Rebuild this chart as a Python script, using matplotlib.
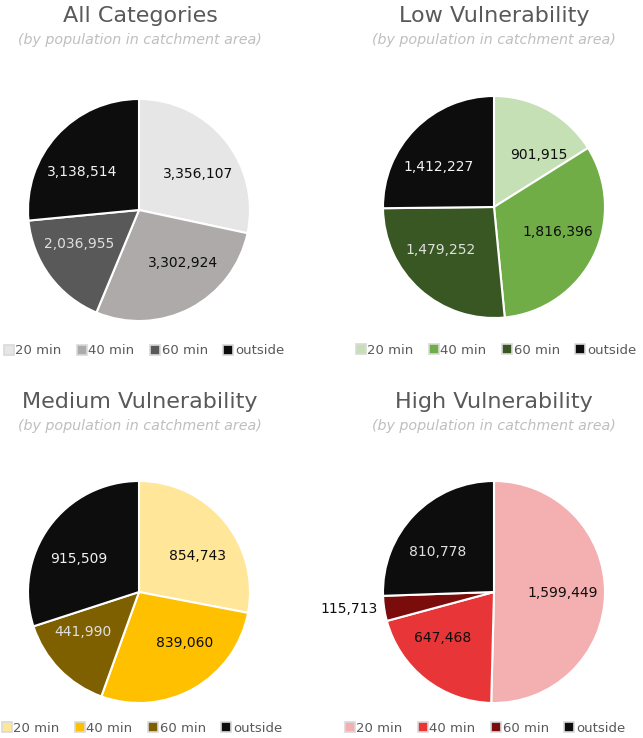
import numpy as np
import matplotlib
matplotlib.use("Agg")
import matplotlib.pyplot as plt
from matplotlib.lines import Line2D

W, H = 643, 738

categories = ["20 min", "40 min", "60 min", "outside"]

titles = ["All Categories", "Low Vulnerability", "Medium Vulnerability", "High Vulnerability"]
subtitle = "(by population in catchment area)"

all_values = [3356107, 3302924, 2036955, 3138514]
low_values = [901915, 1816396, 1479252, 1412227]
medium_values = [854743, 839060, 441990, 915509]
high_values = [1599449, 647468, 115713, 810778]

all_colors = ["#E7E6E6", "#AEAAAA", "#595959", "#0D0D0D"]
low_colors = ["#C5E0B4", "#70AD47", "#385723", "#0D0D0D"]
medium_colors = ["#FFE699", "#FFC000", "#7F6000", "#0D0D0D"]
high_colors = ["#F4B0B0", "#E83538", "#7B0C0C", "#0D0D0D"]

# text colour on each slice (dark on light fills, light on dark fills)
all_text = ["#0D0D0D", "#0D0D0D", "#E0E0E0", "#F2F2F2"]
low_text = ["#0D0D0D", "#0D0D0D", "#E0E0E0", "#F2F2F2"]
medium_text = ["#0D0D0D", "#0D0D0D", "#E0E0E0", "#F2F2F2"]
high_text = ["#0D0D0D", "#0D0D0D", "#0D0D0D", "#E0E0E0"]

panels = [
    (all_values, all_colors, all_text),
    (low_values, low_colors, low_text),
    (medium_values, medium_colors, medium_text),
    (high_values, high_colors, high_text),
]

# layout in pixels: pie centre, radius, title y, legend centre
pie_centres = [(139, 210), (494, 207), (139, 592), (494, 592)]
radius_px = 111
title_pos = [(140, 16), (494, 16), (140, 402), (494, 402)]
legend_pos = [(144, 351), (496, 350), (142, 728), (485, 728)]

TITLE_C = "#595959"
SUB_C = "#BFBFBF"
FONT = "DejaVu Sans"


def fx(x):
    return x / W


def fy(y):
    return 1 - y / H


plt.rcParams["font.family"] = FONT
fig = plt.figure(figsize=(W / 100, H / 100), dpi=100)
fig.patch.set_facecolor("white")

for i, (vals, cols, tcols) in enumerate(panels):
    cx, cy = pie_centres[i]
    ax = fig.add_axes([fx(cx - radius_px), fy(cy + radius_px),
                       2 * radius_px / W, 2 * radius_px / H])
    wedges, _ = ax.pie(vals, colors=cols, startangle=90, counterclock=False,
                       radius=1.0,
                       wedgeprops=dict(edgecolor="white", linewidth=1.5))
    ax.set_xlim(-1, 1)
    ax.set_ylim(-1, 1)
    ax.set_aspect("equal")
    ax.axis("off")

    total = float(sum(vals))
    for w, v, tc in zip(wedges, vals, tcols):
        mid = 0.5 * (w.theta1 + w.theta2)
        ang = ((mid + 180) % 360) - 180
        if v / total < 0.05:
            # tiny slice: label outside on the left
            r = 1.04
            x, y = r * np.cos(np.radians(ang)), r * np.sin(np.radians(ang))
            ax.text(x - 0.02, y, f"{v:,}", ha="right", va="center",
                    fontsize=10, color="#0D0D0D", clip_on=False)
            continue
        # pull label a bit towards the horizontal, like Excel's best fit
        ref = 0.0 if abs(ang) <= 90 else (180.0 if ang > 0 else -180.0)
        ang2 = ref + 0.8 * (ang - ref)
        r = 0.62
        x, y = r * np.cos(np.radians(ang2)), r * np.sin(np.radians(ang2))
        ax.text(x, y, f"{v:,}", ha="center", va="center", fontsize=10, color=tc)

    tx, ty = title_pos[i]
    fig.text(fx(tx), fy(ty), titles[i], ha="center", va="center",
             fontsize=16, color=TITLE_C)
    fig.text(fx(tx), fy(ty + 24), subtitle, ha="center", va="center",
             fontsize=10.3, color=SUB_C, style="italic")

    handles = [Line2D([], [], marker="s", linestyle="none", markersize=7,
                      markerfacecolor=c, markeredgecolor="#D9D9D9",
                      markeredgewidth=1.2) for c in cols]
    lx, ly = legend_pos[i]
    leg = fig.legend(handles, categories, loc="center",
                     bbox_to_anchor=(fx(lx), fy(ly)), ncol=4, frameon=False,
                     fontsize=9.5, handlelength=0.7, handletextpad=0.15,
                     columnspacing=1.2, borderaxespad=0, borderpad=0)
    for t in leg.get_texts():
        t.set_color(TITLE_C)

fig.savefig("out.png", dpi=100, facecolor="white")
